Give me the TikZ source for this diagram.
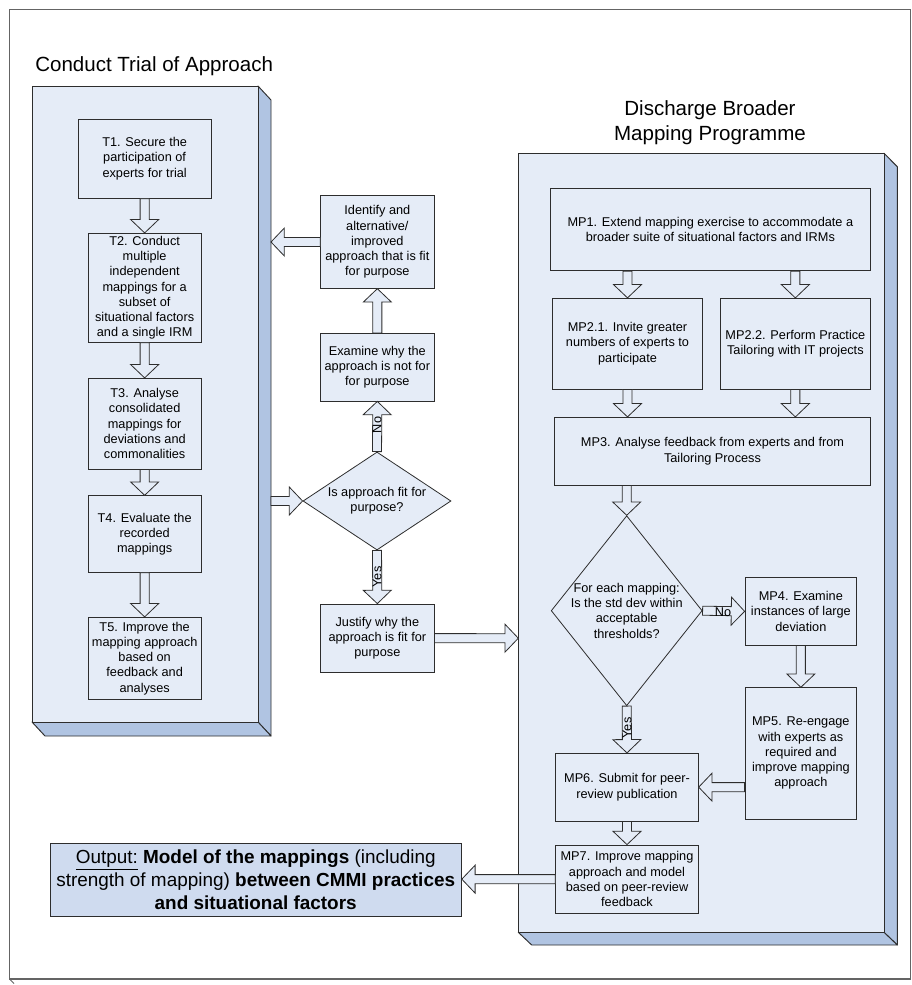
\documentclass[tikz,border=0pt]{standalone}
\usepackage{fontspec}
\setmainfont{Liberation Sans}
\usetikzlibrary{calc,shapes.geometric}
\definecolor{pfill}{RGB}{229,236,247}
\definecolor{pside}{RGB}{176,196,226}
\definecolor{ofill}{RGB}{207,219,239}
\definecolor{edgec}{RGB}{45,45,45}
\definecolor{framec}{RGB}{100,100,100}
\newcommand\pbox[7][procbox]{%
  \pgfmathsetmacro\pbW{(#5-#3)*0.75}%
  \pgfmathsetmacro\pbH{(#6-#4)*0.75}%
  \node[#1, minimum width=\pbW pt, minimum height=\pbH pt] (#2) at ({(#3+#5)/2},{(#4+#6)/2}) {#7};}
\newcommand\barrow[2]{%
  \draw[blockarrow]
    ($(#1)!3.4pt!90:(#2)$) --
    ($($(#2)!10pt!(#1)$)!3.4pt!90:(#2)$) --
    ($($(#2)!10pt!(#1)$)!10.5pt!90:(#2)$) --
    (#2) --
    ($($(#2)!10pt!(#1)$)!10.5pt!-90:(#2)$) --
    ($($(#2)!10pt!(#1)$)!3.4pt!-90:(#2)$) --
    ($(#1)!3.4pt!-90:(#2)$) -- cycle;}
\begin{document}
\begin{tikzpicture}[x=0.75pt,y=-0.75pt,
  bodyfont/.style={font=\fontsize{9.55}{11.45}\selectfont},
  procbox/.style={draw=edgec, fill=pfill, line width=0.6pt, inner sep=1pt, align=center, bodyfont},
  outbox/.style={draw=edgec, fill=ofill, line width=0.6pt, inner sep=1pt, align=center, font=\fontsize{14.2}{17.25}\selectfont},
  decision/.style={diamond, draw=edgec, fill=pfill, line width=0.6pt, inner sep=0pt},
  dtext/.style={align=center, inner sep=0pt, bodyfont},
  panelface/.style={draw=edgec, fill=pfill, line width=0.7pt},
  panelside/.style={draw=edgec, fill=pside, line width=0.7pt, line join=round},
  blockarrow/.style={draw=edgec, fill=pfill, line width=0.6pt, line join=miter},
  lbl/.style={inner sep=0pt, bodyfont},
  ttl/.style={inner sep=0pt, font=\fontsize{15.4}{18.75}\selectfont}]
\useasboundingbox (0,0) rectangle (911,985);
% outer frame
\draw[framec, line width=0.8pt] (9.5,9.5) rectangle (910.5,979);
\draw[framec, line width=0.6pt] (9.5,979) -- (14,983.5);

% left panel (Conduct Trial of Approach)
\draw[panelside] (258,86) -- (271,100) -- (271,736) -- (258,722) -- cycle;
\draw[panelside] (32,722) -- (45,736) -- (271,736) -- (258,722) -- cycle;
\draw[panelface] (32,86) rectangle (258,722);

% right panel (Discharge Broader Mapping Programme)
\draw[panelside] (884,153.3) -- (897.3,166.7) -- (897.3,945) -- (884,932.3) -- cycle;
\draw[panelside] (518.3,932.3) -- (531.7,945) -- (897.3,945) -- (884,932.3) -- cycle;
\draw[panelface] (518.3,153.3) rectangle (884,932.3);

% titles
\node[ttl, anchor=base west] (ttlA) at (35,71.7) {Conduct Trial of Approach};
\node[ttl, anchor=base] (ttlB1) at (710,115) {Discharge Broader};
\node[ttl, anchor=base] (ttlB2) at (710,140) {Mapping Programme};

% left panel boxes
\pbox{T1}{78.3}{119}{211}{198.3}{T1. Secure the\\participation of\\experts for trial}
\pbox{T2}{88.3}{233.3}{201}{342.3}{T2. Conduct\\multiple\\independent\\mappings for a\\subset of\\situational factors\\and a single IRM}
\pbox{T3}{88.3}{378.3}{201}{469}{T3. Analyse\\consolidated\\mappings for\\deviations and\\commonalities}
\pbox{T4}{88.3}{495.7}{201}{572.3}{T4. Evaluate the\\recorded\\mappings}
\pbox{T5}{88.3}{617.3}{201}{699.3}{T5. Improve the\\mapping approach\\based on\\feedback and\\analyses}

% middle column
\pbox{ident}{320.7}{195.7}{434}{288.3}{Identify and\\alternative/\\improved\\approach that is fit\\for purpose}
\pbox{exam}{320.7}{333.3}{434}{401}{Examine why the\\approach is not for\\for purpose}
\node[decision, minimum width=111pt, minimum height=73.5pt] (d1) at (377,501) {};
\node[dtext] (d1t) at (d1.center) {Is approach fit for\\purpose?};
\pbox{just}{320.7}{604}{434}{672.3}{Justify why the\\approach is fit for\\purpose}

% right panel boxes
\pbox{MP1}{550}{188.3}{870.7}{270.7}{MP1. Extend mapping exercise to accommodate a\\broader suite of situational factors and IRMs}
\pbox{MP21}{552.3}{298.3}{702.7}{389}{MP2.1. Invite greater\\numbers of experts to\\participate}
\pbox{MP22}{720}{298.3}{870.7}{389}{MP2.2. Perform Practice\\Tailoring with IT projects}
\pbox{MP3}{554.3}{417.3}{870.7}{485}{MP3. Analyse feedback from experts and from\\Tailoring Process}
\node[decision, minimum width=113.25pt, minimum height=142.5pt] (d2) at (626.7,610.7) {};
\node[dtext] (d2t) at (d2.center) {For each mapping:\\Is the std dev within\\acceptable\\thresholds?};
\pbox{MP4}{745}{577.7}{856.7}{645}{MP4. Examine\\instances of large\\deviation}
\pbox{MP5}{745}{687.7}{856.7}{819}{MP5. Re-engage\\with experts as\\required and\\improve mapping\\approach}
\pbox{MP6}{555.7}{753.3}{698.3}{821}{MP6. Submit for peer-\\review publication}
\pbox{MP7}{555.7}{845}{698.3}{913.3}{MP7. Improve mapping\\approach and model\\based on peer-review\\feedback}

% output
\pbox[outbox]{out}{50}{843.3}{461.4}{916}{\underline{Output:} \textbf{Model of the mappings} (including\\strength of mapping) \textbf{between CMMI practices}\\\textbf{and situational factors}}

% anchor coordinates on panels
\coordinate (lpA) at (271,501);
\coordinate (lpB) at (271,242);
\coordinate (rpA) at (518.3,638.2);
\coordinate (m1a) at (MP1.south -| MP21.north);
\coordinate (m1b) at (MP1.south -| MP22.north);
\coordinate (m3a) at (MP3.north -| MP21.south);
\coordinate (m3b) at (MP3.north -| MP22.south);
\coordinate (m3c) at (MP3.south -| d2.north);
\coordinate (m5a) at (MP5.west |- MP6.east);
\coordinate (oa) at (out.east |- MP7.west);

% arrows
\barrow{T1.south}{T2.north}
\barrow{T2.south}{T3.north}
\barrow{T3.south}{T4.north}
\barrow{T4.south}{T5.north}
\barrow{lpA}{d1.west}
\barrow{d1.north}{exam.south}
\barrow{exam.north}{ident.south}
\barrow{ident.west}{lpB}
\barrow{d1.south}{just.north}
\barrow{just.east}{rpA}
\barrow{m1a}{MP21.north}
\barrow{m1b}{MP22.north}
\barrow{MP21.south}{m3a}
\barrow{MP22.south}{m3b}
\barrow{m3c}{d2.north}
\barrow{d2.east}{MP4.west}
\barrow{MP4.south}{MP5.north}
\barrow{m5a}{MP6.east}
\barrow{d2.south}{MP6.north}
\barrow{MP6.south}{MP7.north}
\barrow{MP7.west}{oa}

% labels
\node[lbl, rotate=90] (no1) at (377,425) {No};
\node[lbl, rotate=90] (yes1) at (377,577) {Yes};
\node[lbl] (no2) at (723,612) {No};
\node[lbl, rotate=90] (yes2) at (627,728) {Yes};
\end{tikzpicture}
\end{document}
